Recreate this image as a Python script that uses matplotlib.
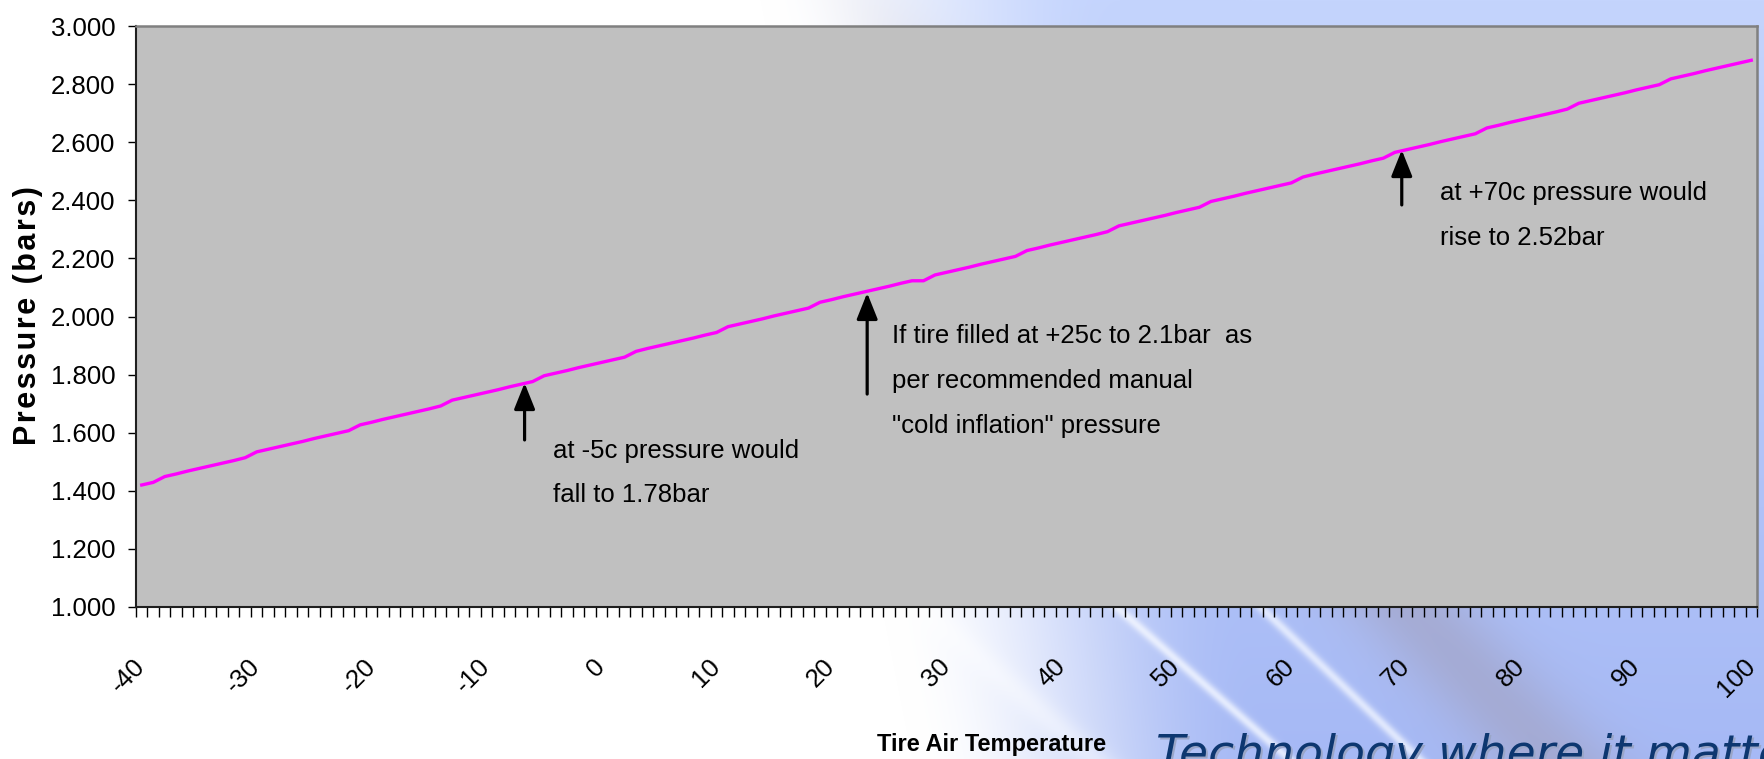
"""Tire pressure vs tire air temperature (Excel-style line chart on slide background)."""
import numpy as np
import matplotlib
matplotlib.use("Agg")
import matplotlib.pyplot as plt
from matplotlib import font_manager

# ---- data ----------------------------------------------------------------
temps = np.arange(-40, 101)  # category axis, one point per degree C
pressure_bar = [
    1.420, 1.429, 1.449, 1.458, 1.468, 1.477, 1.486, 1.495, 1.504, 1.514,  # -40..-31
    1.534, 1.543, 1.552, 1.561, 1.570, 1.580, 1.589, 1.598, 1.607, 1.627,  # -30..-21
    1.636, 1.646, 1.655, 1.664, 1.673, 1.682, 1.692, 1.712, 1.721, 1.730,  # -20..-11
    1.739, 1.748, 1.758, 1.767, 1.776, 1.796, 1.805, 1.814, 1.824, 1.833,  # -10..-1
    1.842, 1.851, 1.860, 1.880, 1.890, 1.899, 1.908, 1.917, 1.926, 1.936,  # 0..9
    1.945, 1.965, 1.974, 1.983, 1.992, 2.002, 2.011, 2.020, 2.029, 2.049,  # 10..19
    2.058, 2.068, 2.077, 2.086, 2.095, 2.104, 2.114, 2.123, 2.123, 2.143,  # 20..29
    2.152, 2.161, 2.170, 2.180, 2.189, 2.198, 2.207, 2.227, 2.236, 2.246,  # 30..39
    2.255, 2.264, 2.273, 2.282, 2.292, 2.312, 2.321, 2.330, 2.339, 2.348,  # 40..49
    2.358, 2.367, 2.376, 2.396, 2.405, 2.414, 2.424, 2.433, 2.442, 2.451,  # 50..59
    2.460, 2.480, 2.490, 2.499, 2.508, 2.517, 2.526, 2.536, 2.545, 2.565,  # 60..69
    2.574, 2.583, 2.592, 2.602, 2.611, 2.620, 2.629, 2.649, 2.658, 2.668,  # 70..79
    2.677, 2.686, 2.695, 2.704, 2.714, 2.734, 2.743, 2.752, 2.761, 2.770,  # 80..89
    2.780, 2.789, 2.798, 2.818, 2.827, 2.836, 2.846, 2.855, 2.864, 2.873,  # 90..99
    2.882,                                                                 # 100
]
x_labels = [-40, -30, -20, -10, 0, 10, 20, 30, 40, 50, 60, 70, 80, 90, 100]
y_ticks = [1.0, 1.2, 1.4, 1.6, 1.8, 2.0, 2.2, 2.4, 2.6, 2.8, 3.0]

# annotations: (arrow tip, arrow base, text anchor, text)
notes = [
    ((-6.7, 1.771), (-6.7, 1.575), (-4.2, 1.580), "at -5c pressure would\nfall to 1.78bar"),
    ((23.1, 2.081), (23.1, 1.733), (25.3, 1.975),
     "If tire filled at +25c to 2.1bar  as\nper recommended manual\n\"cold inflation\" pressure"),
    ((69.6, 2.573), (69.6, 2.384), (72.9, 2.465), "at +70c pressure would\nrise to 2.52bar"),
]

W, H = 1765, 759
_names = {f.name for f in font_manager.fontManager.ttflist}
NARROW = "Liberation Sans Narrow" if "Liberation Sans Narrow" in _names else "Liberation Sans"
FS = 22 if NARROW == "Liberation Sans Narrow" else 18.5
HAIR = "\u200a"


def _slide_background():
    """Light-blue slide picture with diagonal streaks on the right side."""
    yy, xx = np.mgrid[0:H, 0:W].astype(float)
    w = np.clip((xx - 765 - 0.2 * (yy - 26)) / 360, 0, 1)
    w = w * w * (3 - 2 * w)
    blue = np.zeros((H, W, 3))
    blue[..., 0] = 196 - 30 * (yy / H)
    blue[..., 1] = 212 - 27 * (yy / H)
    blue[..., 2] = 253 - 8 * (yy / H)
    blue /= 255.0

    def streak(x0, y0, dx, dy, width):
        n = np.hypot(dx, dy)
        d = np.abs((xx - x0) * dy / n - (yy - y0) * dx / n)
        return np.exp(-(d / width) ** 2)

    band = streak(1440, 640, 1, 1.05, 50)
    grey = np.array([163, 166, 202]) / 255.0
    blue = blue * (1 - 0.75 * band[..., None]) + grey * 0.75 * band[..., None]
    for x0, y0, dx, dy, wd, a in [(1120, 610, 167, 147, 5, 0.85),
                                  (1267, 613, 146, 140, 5, 0.8),
                                  (1000, 676, 167, 147, 14, 0.5)]:
        s = streak(x0, y0, dx, dy, wd)[..., None] * a
        blue = blue * (1 - s) + np.array([0.93, 0.95, 1.0]) * s
    img = np.ones((H, W, 3)) * (1 - w[..., None]) + blue * w[..., None]
    return img


fig = plt.figure(figsize=(W / 100, H / 100), dpi=100)
bg = fig.add_axes([0, 0, 1, 1], zorder=-5)
bg.imshow(_slide_background(), aspect="auto", extent=(0, 1, 0, 1))
bg.axis("off")

# slide footer text, cut by the bottom/right edge like the slide crop
for dx, dy, col in [(2, 2, "#9aa6c8"), (0, 0, "#0d3770")]:
    fig.text((1156 + dx) / W, 1 - (768 + dy) / H, "Technology where it matters",
             fontsize=34, style="italic", family="DejaVu Sans", color=col,
             ha="left", va="baseline")

ax = fig.add_axes([136 / W, 1 - 607 / H, (1757 - 136) / W, (607 - 26) / H])
ax.set_facecolor("#c0c0c0")
ax.plot(temps, pressure_bar, color="#ff00ff", lw=2.4, solid_joinstyle="round")

ax.set_xlim(temps[0] - 0.5, temps[-1] + 0.5)
ax.set_ylim(y_ticks[0], y_ticks[-1])
ax.set_yticks(y_ticks)
ax.set_yticklabels([f"{v:.3f}" for v in y_ticks], family=NARROW, fontsize=FS)
ax.set_xticks(x_labels)
ax.set_xticklabels([str(v) for v in x_labels], family=NARROW, fontsize=FS,
                   rotation=45, ha="right", va="center", rotation_mode="anchor")
ax.set_xticks(np.arange(temps[0] - 0.5, temps[-1] + 1.0, 1.0), minor=True)
ax.tick_params(axis="x", which="major", length=0, pad=40)
ax.tick_params(axis="x", which="minor", length=7.5, width=1.0, direction="out")
ax.tick_params(axis="y", which="major", length=6, width=1.0, pad=9)

for side in ("left", "bottom"):
    ax.spines[side].set_color("#202020")
    ax.spines[side].set_linewidth(1.5)
for side in ("top", "right"):
    ax.spines[side].set_color("#808080")
    ax.spines[side].set_linewidth(1.8)

for tip, base, txt_xy, txt in notes:
    ax.annotate("", xy=tip, xytext=base,
                arrowprops=dict(arrowstyle="-|>,head_length=0.8,head_width=0.32",
                                lw=2.3, color="black", mutation_scale=20,
                                shrinkA=0, shrinkB=0))
    ax.text(txt_xy[0], txt_xy[1], txt, family=NARROW, fontsize=FS, ha="left",
            va="top", linespacing=2.1)

ylab = HAIR.join("Pressure (bars)")
fig.text(28 / W, 1 - 316 / H, ylab, rotation=90, ha="center", va="center",
         fontsize=22, fontweight="bold", family=["Liberation Sans", "DejaVu Sans"])
fig.text(992 / W, 1 - 745 / H, "Tire Air Temperature", ha="center", va="center",
         fontsize=17, fontweight="bold", family=NARROW)

fig.savefig("out.png", dpi=100)
